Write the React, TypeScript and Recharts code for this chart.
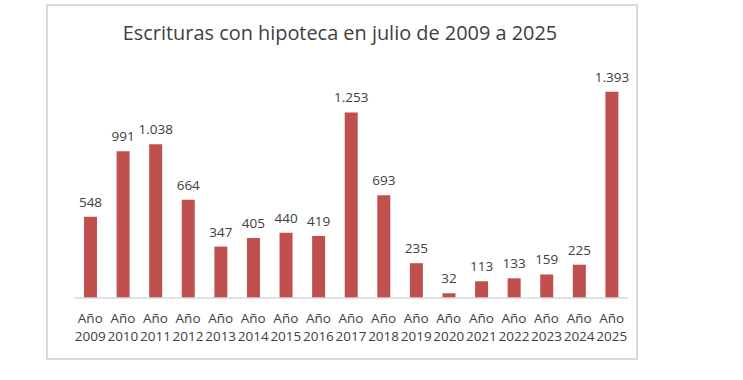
import React from "react";
import { BarChart, Bar, XAxis, YAxis, LabelList } from "recharts";

const years = ["2009","2010","2011","2012","2013","2014","2015","2016","2017","2018","2019","2020","2021","2022","2023","2024","2025"];
const values = [548, 991, 1038, 664, 347, 405, 440, 419, 1253, 693, 235, 32, 113, 133, 159, 225, 1393];
const title = "Escrituras con hipoteca en julio de 2009 a 2025";
const tickPrefix = "Año";

const data = years.map((y, i) => ({ year: y, value: values[i] }));

const FONT = "'Open Sans', sans-serif";
const TEXT = "#404040";

const fmt = (v: number) => v.toLocaleString("de-DE");

const Tick = (props: any) => {
  const { x, y, payload } = props;
  return (
    <text x={x} y={y} textAnchor="middle" fill={TEXT} fontFamily={FONT} fontSize={13.5}>
      <tspan x={x} y={y + 17}>{tickPrefix}</tspan>
      <tspan x={x} y={y + 35}>{payload.value}</tspan>
    </text>
  );
};

export default function App() {
  return (
    <div style={{ position: "absolute", left: 0, top: 0, width: 743, height: 380, background: "#fff" }}>
      <div
        style={{
          position: "absolute",
          left: 46,
          top: 4,
          width: 588,
          height: 352,
          border: "2px solid #d9d9d9",
          boxSizing: "content-box",
        }}
      />
      <div
        style={{
          position: "absolute",
          left: 0,
          width: 680,
          top: 19,
          textAlign: "center",
          fontFamily: FONT,
          fontSize: 19.9,
          color: TEXT,
          lineHeight: "28px",
        }}
      >
        {title}
      </div>
      <div style={{ position: "absolute", left: 0, top: 0 }}>
        <BarChart
          width={743}
          height={380}
          data={data}
          margin={{ top: 61, right: 115, bottom: 0, left: 74 }}
          barSize={13}
        >
          <XAxis
            dataKey="year"
            axisLine={{ stroke: "#d9d9d9", strokeWidth: 1.5 }}
            tickLine={false}
            tick={<Tick />}
            interval={0}
            height={82}
          />
          <YAxis hide domain={[0, 1600]} width={0} />
          <Bar dataKey="value" fill="#C0504D" isAnimationActive={false}>
            <LabelList
              dataKey="value"
              position="top"
              offset={10}
              formatter={(v: any) => fmt(Number(v))}
              fill={TEXT}
              fontFamily={FONT}
              fontSize={13.5}
            />
          </Bar>
        </BarChart>
      </div>
    </div>
  );
}
